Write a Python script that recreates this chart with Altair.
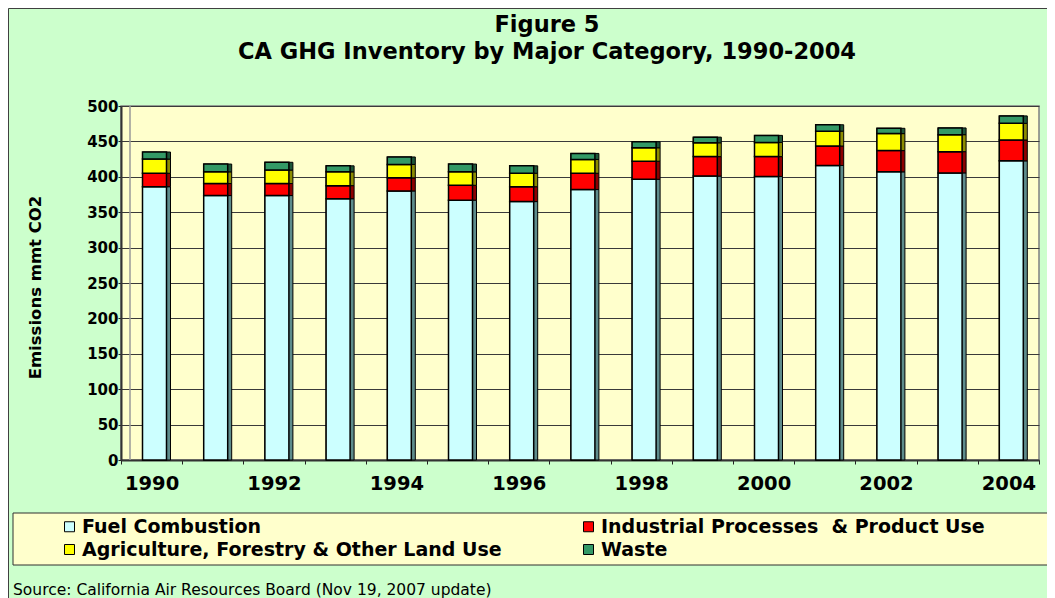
import altair as alt
import pandas as pd

# ---------------- data ----------------
years = list(range(1990, 2005))
categories = ["Fuel Combustion", "Industrial Processes\u00a0 & Product Use",
              "Agriculture, Forestry & Other Land Use", "Waste"]
fuel = [386, 373.5, 373.5, 369, 380, 367, 365, 382, 396.5, 401, 400.5, 416, 407, 405.5, 422.5]
industrial = [19, 17, 17, 18.5, 18.5, 21, 21, 23, 25.5, 27.5, 28, 27.5, 30, 30, 29.5]
agriculture = [20, 16.5, 19, 19.5, 19, 19, 19, 19.5, 19, 19.5, 20, 21, 24, 24, 23.5]
waste = [10, 11, 11, 8.5, 10.5, 11, 10.5, 8.5, 8.5, 8, 10, 9, 7.5, 9.5, 10.5]
y_ticks = list(range(0, 501, 50))
title_lines = ["Figure 5", "CA GHG Inventory by Major Category, 1990-2004"]
y_title = "Emissions mmt CO2"
source_text = "Source: California Air Resources Board (Nov 19, 2007 update)"

front_colors = ["#CCFFFF", "#FF0000", "#FFFF00", "#339966"]
side_colors = ["#5E8C8C", "#8C0000", "#8C8C00", "#1C5438"]

series = [fuel, industrial, agriculture, waste]
rows = []
for ci, (cat, vals) in enumerate(zip(categories, series)):
    for yr, v in zip(years, vals):
        rows.append({"year": yr, "category": cat, "value": v, "order": ci})
df = pd.DataFrame(rows)

# legend fills column by column: order the domain so rows read
# "Fuel | Industrial" and "Agriculture | Waste"
legend_order = [0, 2, 1, 3]
legend_domain = [categories[i] for i in legend_order]
legend_front = [front_colors[i] for i in legend_order]
legend_side = [side_colors[i] for i in legend_order]

FONT = "DejaVu Sans"
W, H = 918, 354

x_enc = alt.X(
    "year:O",
    scale=alt.Scale(paddingInner=0, paddingOuter=0),
    axis=alt.Axis(
        title=None, labelAngle=0, tickBand="extent",
        labelExpr="toNumber(datum.value) % 2 == 0 ? datum.label : ''",
        labelFont=FONT, labelFontSize=19.5, labelFontWeight="bold", labelColor="black",
        labelBaseline="middle", labelPadding=19, tickSize=4, tickColor="#222222",
        domainColor="#333333", domainWidth=2, grid=False,
    ),
)
y_enc = alt.Y(
    "value:Q", stack="zero",
    scale=alt.Scale(domain=[0, 500], nice=False),
    axis=alt.Axis(
        values=y_ticks, title=y_title, titleFont=FONT, titleFontSize=16.5,
        titleFontWeight="bold", titleColor="black", titleAngle=270,
        titleX=-86, titleY=181, titleAlign="center", titleBaseline="middle",
        labelFont=FONT, labelFontSize=15, labelFontWeight="bold", labelColor="black",
        labelPadding=0, tickSize=3, tickColor="#222222",
        domainColor="#333333", domainWidth=2,
        grid=True, gridColor="#3a3a3a", gridWidth=1,
    ),
)

one = pd.DataFrame({"k": [0]})

outer = alt.Chart(one).mark_rect(fill=None, stroke="#404040", strokeWidth=1).encode(
    x=alt.value(-112.5), x2=alt.value(940), y=alt.value(-97.5), y2=alt.value(520))
legend_box = alt.Chart(one).mark_rect(fill="#FFFFCC", stroke="#303030", strokeWidth=1).encode(
    x=alt.value(-108), x2=alt.value(960), y=alt.value(407), y2=alt.value(459))
wall = alt.Chart(one).mark_rule(color="#999999", strokeWidth=1.5).encode(
    x=alt.value(9), y=alt.value(0), y2=alt.value(H))

side = alt.Chart(df).mark_bar(size=28, xOffset=4.9, stroke="black", strokeWidth=1).encode(
    x=x_enc, y=y_enc,
    fill=alt.Fill("category:N", scale=alt.Scale(domain=legend_domain, range=legend_side), legend=None),
    order=alt.Order("order:Q"),
)
front = alt.Chart(df).mark_bar(size=24, xOffset=2.9, stroke="black", strokeWidth=1.5).encode(
    x=x_enc, y=y_enc,
    color=alt.Color(
        "category:N", scale=alt.Scale(domain=legend_domain, range=legend_front),
        legend=alt.Legend(
            title=None, orient="none", legendX=-61, legendY=411, columns=2,
            columnPadding=77, rowPadding=3, symbolType="square", symbolSize=100,
            symbolStrokeColor="black", symbolStrokeWidth=1, labelFont=FONT,
            labelFontSize=19, labelFontWeight="bold", labelColor="black",
            labelLimit=700, labelOffset=3, padding=0,
        ),
    ),
    order=alt.Order("order:Q"),
)

t1 = alt.Chart(one).mark_text(font=FONT, fontSize=22.5, fontWeight="bold", color="black",
                              align="center", baseline="middle").encode(
    x=alt.value(426), y=alt.value(-81), text=alt.value(title_lines[0]))
t2 = alt.Chart(one).mark_text(font=FONT, fontSize=22.5, fontWeight="bold", color="black",
                              align="center", baseline="middle").encode(
    x=alt.value(426), y=alt.value(-54), text=alt.value(title_lines[1]))
src = alt.Chart(one).mark_text(font=FONT, fontSize=15.5, color="black",
                               align="left", baseline="middle").encode(
    x=alt.value(-108), y=alt.value(484), text=alt.value(source_text))

chart = alt.layer(outer, legend_box, wall, side, front, t1, t2, src).resolve_scale(
    color="independent", fill="independent"
).properties(
    width=W, height=H, autosize="none",
    padding={"left": 113, "top": 98, "right": 8, "bottom": 138},
).configure(background="#CCFFCC").configure_view(
    fill="#FFFFCC", stroke="#808080", strokeWidth=1.5
)

chart.save("out.html", embed_options={"renderer": "svg", "actions": False})
